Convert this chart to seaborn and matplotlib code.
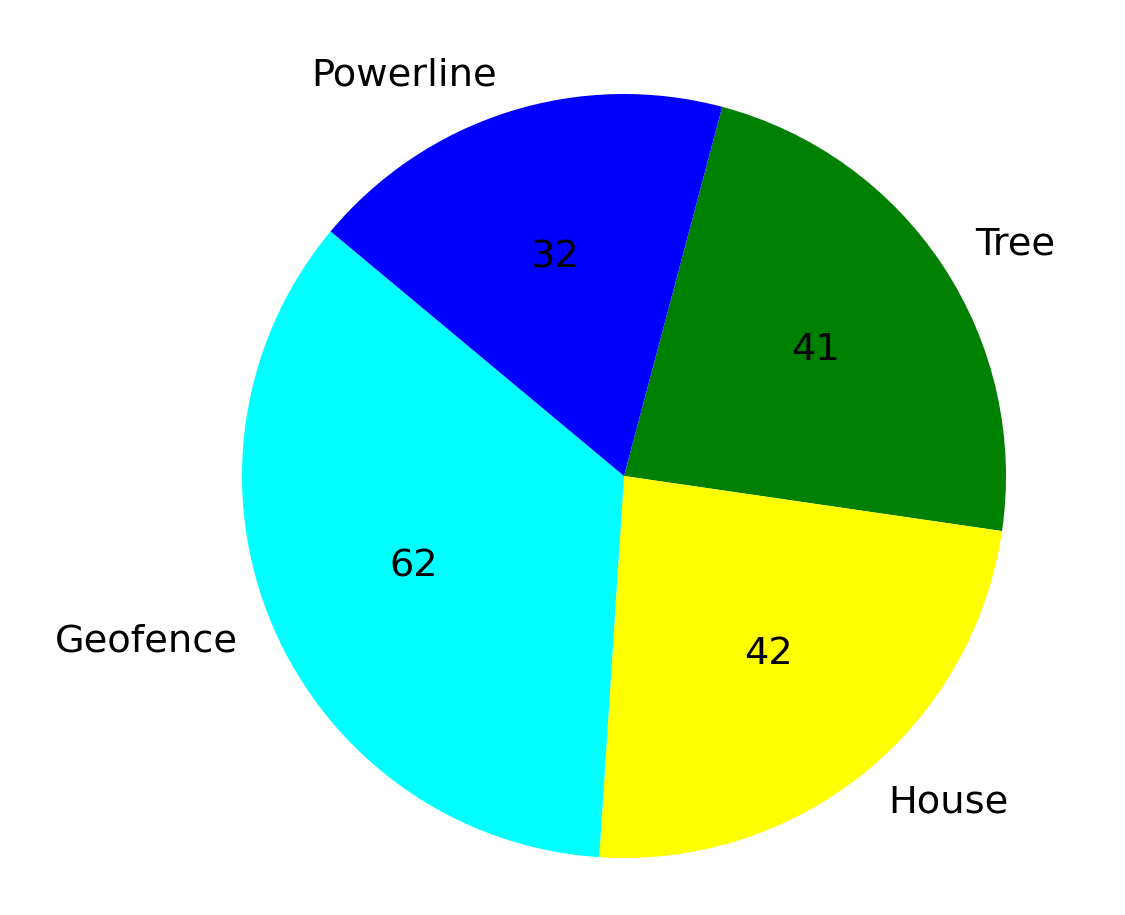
import matplotlib
matplotlib.use("Agg")
import matplotlib.pyplot as plt
import seaborn as sns

categories = ["Tree", "House", "Geofence", "Powerline"]
counts = [41, 42, 62, 32]
colors = ["green", "yellow", "cyan", "blue"]

sns.set_theme(style="white")
plt.rcParams["font.family"] = ["DejaVu Sans"]

fig = plt.figure(figsize=(7.5, 6.1), dpi=150)
ax = fig.add_axes([0, 0, 1, 1])
total = sum(counts)
ax.pie(
    counts,
    labels=categories,
    colors=colors,
    autopct=lambda p: f"{round(p * total / 100)}",
    startangle=75.1,
    counterclock=False,
    wedgeprops={"linewidth": 0, "edgecolor": "none"},
    textprops={"fontsize": 18.4, "color": "black"},
)
ax.set_xlim(-624 / 382, (1125 - 624) / 382)
ax.set_ylim(-(915 - 476) / 382, 476 / 382)
ax.set_aspect("auto")
ax.axis("off")
fig.savefig("out.png", dpi=150)
